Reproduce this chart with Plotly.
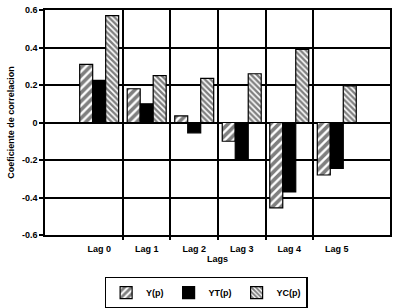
import plotly.graph_objects as go

categories = ["Lag 0", "Lag 1", "Lag 2", "Lag 3", "Lag 4", "Lag 5"]
y_p = [0.31, 0.18, 0.035, -0.10, -0.455, -0.28]
yt_p = [0.225, 0.10, -0.055, -0.20, -0.37, -0.245]
yc_p = [0.57, 0.25, 0.235, 0.26, 0.39, 0.195]
y_ticks = [0.6, 0.4, 0.2, 0, -0.2, -0.4, -0.6]
y_tick_text = ["0.6", "0.4", "0.2", "0", "-0.2", "-0.4", "-0.6"]

xpos = list(range(len(categories)))
boundaries = [i + 0.5 for i in xpos[:-1]]

fig = go.Figure()
fig.add_trace(go.Bar(
    x=xpos, y=y_p, name="Y(p)",
    marker=dict(color="white", line=dict(color="black", width=1.2),
                pattern=dict(shape="/", fgcolor="black", bgcolor="white", size=6, solidity=0.6)),
))
fig.add_trace(go.Bar(
    x=xpos, y=yt_p, name="YT(p)",
    marker=dict(color="black", line=dict(color="black", width=1.2)),
))
fig.add_trace(go.Bar(
    x=xpos, y=yc_p, name="YC(p)",
    marker=dict(color="white", line=dict(color="black", width=1.2),
                pattern=dict(shape="\\", fgcolor="black", bgcolor="white", size=4, solidity=0.6)),
))
# invisible trace for the boundary grid axis
fig.add_trace(go.Scatter(x=boundaries, y=[None] * len(boundaries), xaxis="x2",
                         showlegend=False, hoverinfo="skip"))

font_family = "Liberation Sans, Arial, sans-serif"
fig.update_layout(
    width=400, height=308,
    margin=dict(l=45, r=10, t=10, b=73, autoexpand=False),
    paper_bgcolor="white", plot_bgcolor="white",
    font=dict(family=font_family, size=9, color="black", weight="bold"),
    barmode="group", bargap=0.18, bargroupgap=0,
    showlegend=True,
    legend=dict(orientation="h", x=0.467, xanchor="center", y=-0.185, yanchor="top",
                bordercolor="black", borderwidth=1.5, font=dict(size=9, weight="bold"),
                itemwidth=30, tracegroupgap=0),
    xaxis=dict(range=[-1.14, 6.12], tickvals=xpos, ticktext=categories, showgrid=False,
               zeroline=False, showline=True, linecolor="black", linewidth=1.5, mirror=True,
               ticks="", ticklabelstandoff=4, tickfont=dict(size=9, weight="bold"),
               automargin=False,
               title=dict(text="Lags", font=dict(size=9, weight="bold"), standoff=3)),
    xaxis2=dict(range=[-1.14, 6.12], overlaying="x", side="bottom", tickvals=boundaries,
                showticklabels=False, showgrid=True, gridcolor="black", gridwidth=1.5,
                ticks="outside", ticklen=4, tickwidth=1.5, tickcolor="black",
                zeroline=False, showline=False, anchor="y", automargin=False),
    yaxis=dict(range=[-0.6, 0.6], tickvals=y_ticks, ticktext=y_tick_text,
               showgrid=True, gridcolor="black", gridwidth=1.5,
               zeroline=True, zerolinecolor="black", zerolinewidth=1.5,
               showline=True, linecolor="black", linewidth=1.5, mirror=True,
               ticks="outside", ticklen=4, tickwidth=1.5, tickcolor="black",
               tickfont=dict(size=9, weight="bold"), automargin=False,
               title=dict(text="Coeficiente de correlacion", font=dict(size=9, weight="bold"), standoff=6)),
)

fig.write_html("out.html")
